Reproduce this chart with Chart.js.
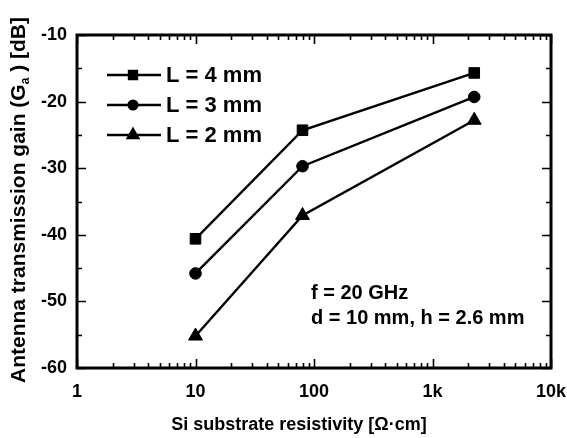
<!DOCTYPE html>
<html>
<head>
<meta charset="utf-8">
<script src="https://cdn.jsdelivr.net/npm/chart.js@4/dist/chart.umd.min.js"></script>
<style>
  html, body { margin: 0; padding: 0; background: #fff; }
  #wrap { width: 567px; height: 438px; position: relative; }
</style>
</head>
<body>
<div id="wrap"><canvas id="c" width="567" height="438"></canvas></div>
<script>
// Resistivity of the Si substrate [Ω·cm]
const resistivity = [10, 80, 2250];
// Antenna transmission gain [dB] for each line length
const gainL4 = [-40.6, -24.3, -15.7];
const gainL3 = [-45.8, -29.7, -19.3];
const gainL2 = [-55.2, -37.1, -22.8];
const seriesNames = ['L = 4 mm', 'L = 3 mm', 'L = 2 mm'];
const markerStyles = ['rect', 'circle', 'triangle'];
const markerRadii = [7.5, 5.8, 8];
const xTicks = [1, 10, 100, 1000, 10000];
const xTickLabels = ['1', '10', '100', '1k', '10k'];
const yTicks = [-60, -50, -40, -30, -20, -10];
const noteLines = ['f = 20 GHz', 'd = 10 mm, h = 2.6 mm'];

const FONT = '"Liberation Sans", Arial, sans-serif';
const INK = '#000';

function pts(ys) { return resistivity.map((x, i) => ({ x: x, y: ys[i] })); }

const datasets = [gainL4, gainL3, gainL2].map((ys, i) => ({
  label: seriesNames[i],
  data: pts(ys),
  borderColor: INK,
  backgroundColor: INK,
  borderWidth: 2.4,
  pointStyle: markerStyles[i],
  pointRadius: markerRadii[i],
  pointBorderWidth: 1,
  pointBorderColor: INK,
  pointBackgroundColor: INK,
  tension: 0,
  fill: false
}));

// Frame, inward ticks (major + minor), legend, note and axis titles
const decorations = {
  id: 'decorations',
  afterDatasetsDraw(chart) {
    const ctx = chart.ctx;
    const xs = chart.scales.x, ys = chart.scales.y;
    const a = chart.chartArea;
    ctx.save();
    ctx.strokeStyle = INK;
    ctx.fillStyle = INK;

    // frame
    ctx.lineWidth = 3;
    ctx.strokeRect(a.left, a.top, a.right - a.left, a.bottom - a.top);

    // x ticks (log decades with minor 2..9)
    ctx.lineWidth = 1.6;
    const majorLen = 9, minorLen = 5;
    ctx.beginPath();
    for (let d = 1; d < 10000; d *= 10) {
      for (let m = 1; m <= 10; m++) {
        const v = d * m;
        const px = Math.round(xs.getPixelForValue(v)) + 0.5;
        const len = (m === 1 || m === 10) ? majorLen : minorLen;
        ctx.moveTo(px, a.bottom); ctx.lineTo(px, a.bottom - len);
        ctx.moveTo(px, a.top); ctx.lineTo(px, a.top + len);
      }
    }
    // y ticks every 5 dB
    for (let v = -60; v <= -10; v += 5) {
      const py = Math.round(ys.getPixelForValue(v)) + 0.5;
      const len = (v % 10 === 0) ? majorLen : minorLen;
      ctx.moveTo(a.left, py); ctx.lineTo(a.left + len, py);
      ctx.moveTo(a.right, py); ctx.lineTo(a.right - len, py);
    }
    ctx.stroke();

    // legend
    const legX0 = 107, legX1 = 161, legMark = 133, legText = 166;
    const legY = [75, 105, 135];
    ctx.font = 'bold 22px ' + FONT;
    ctx.textBaseline = 'middle';
    ctx.textAlign = 'left';
    seriesNames.forEach((name, i) => {
      ctx.lineWidth = 2.4;
      ctx.beginPath();
      ctx.moveTo(legX0, legY[i]); ctx.lineTo(legX1, legY[i]);
      ctx.stroke();
      Chart.helpers.drawPoint(ctx, {
        pointStyle: markerStyles[i],
        radius: markerRadii[i] * 0.75,
        rotation: 0,
        borderWidth: 1
      }, legMark, legY[i]);
      ctx.fill();
      ctx.fillText(name, legText, legY[i] + 1);
    });

    // operating conditions
    ctx.font = 'bold 20px ' + FONT;
    ctx.fillText(noteLines[0], 311, 293);
    ctx.fillText(noteLines[1], 311, 318);

    // x title
    ctx.font = 'bold 18px ' + FONT;
    ctx.textAlign = 'center';
    ctx.fillText('Si substrate resistivity [Ω·cm]', 299, 425);

    // y title with subscript
    ctx.translate(19, 200);
    ctx.rotate(-Math.PI / 2);
    const big = 'bold 21px ' + FONT, small = 'bold 12px ' + FONT;
    const p1 = 'Antenna transmission gain (G', p2 = 'a', p3 = ' ) [dB]';
    ctx.font = big; const w1 = ctx.measureText(p1).width, w3 = ctx.measureText(p3).width;
    ctx.font = small; const w2 = ctx.measureText(p2).width;
    let x = -(w1 + w2 + w3) / 2;
    ctx.textAlign = 'left';
    ctx.font = big; ctx.fillText(p1, x, 0); x += w1;
    ctx.font = small; ctx.fillText(p2, x, 7); x += w2;
    ctx.font = big; ctx.fillText(p3, x, 0);

    ctx.restore();
  }
};

new Chart(document.getElementById('c'), {
  type: 'line',
  data: { datasets },
  options: {
    responsive: false,
    animation: false,
    devicePixelRatio: 1,
    layout: { padding: { left: 0, right: 16, top: 35, bottom: 0 } },
    plugins: { legend: { display: false }, tooltip: { enabled: false } },
    scales: {
      x: {
        type: 'logarithmic',
        min: 1, max: 10000,
        afterBuildTicks: (s) => { s.ticks = xTicks.map(v => ({ value: v, major: true })); },
        afterFit: (s) => { s.height = 70; s.paddingLeft = 0; s.paddingRight = 0; },
        grid: { display: false, drawTicks: false },
        border: { display: false },
        ticks: {
          autoSkip: false, maxRotation: 0, padding: 13,
          color: INK,
          font: { family: FONT, size: 18, weight: 'bold' },
          callback: (v) => { const i = xTicks.indexOf(v); return i >= 0 ? xTickLabels[i] : ''; }
        }
      },
      y: {
        type: 'linear',
        min: -60, max: -10,
        afterBuildTicks: (s) => { s.ticks = yTicks.map(v => ({ value: v })); },
        afterFit: (s) => { s.width = 77; s.paddingTop = 0; s.paddingBottom = 0; },
        grid: { display: false, drawTicks: false },
        border: { display: false },
        ticks: {
          padding: 10,
          color: INK,
          font: { family: FONT, size: 18, weight: 'bold' }
        }
      }
    }
  },
  plugins: [decorations]
});
</script>
</body>
</html>
